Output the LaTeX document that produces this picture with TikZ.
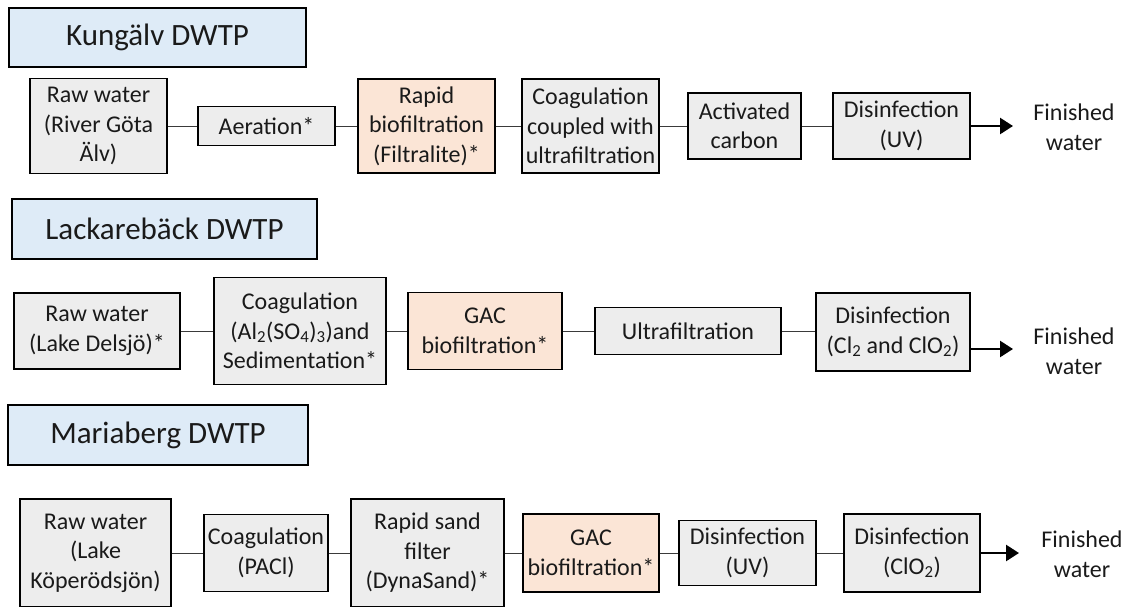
\documentclass[tikz,border=0pt]{standalone}
\usepackage{fontspec}
\setmainfont{Carlito}
\usetikzlibrary{arrows.meta}
\definecolor{boxgray}{HTML}{EDEDED}
\definecolor{boxorange}{HTML}{FBE5D6}
\definecolor{titleblue}{HTML}{DEEBF7}
\definecolor{txt}{HTML}{1A1A1A}
\definecolor{conn}{HTML}{3A3A3A}
\tikzset{
  stage/.style={draw=black, line width=1.4pt, fill=boxgray, inner sep=0pt, align=center,
    text=txt, font=\fontsize{24}{29.5}\selectfont},
  bio/.style={stage, fill=boxorange},
  plant/.style={draw=black, line width=2pt, fill=titleblue, inner sep=0pt, align=center,
    text=txt, font=\fontsize{31}{37}\selectfont},
  link/.style={draw=conn, line width=1pt},
  outflow/.style={draw=black, line width=2.6pt, -{Triangle[length=13pt,width=16pt]}},
  product/.style={align=center, text=txt, inner sep=0pt, font=\fontsize{24}{29.5}\selectfont}
}
\begin{document}
\begin{tikzpicture}[x=1pt,y=-1pt]
\useasboundingbox (0,0) rectangle (1124,606);
\clip (0,0) rectangle (1124,606);
% titles
\node[plant, minimum width=297pt, minimum height=59pt] (t1) at (157.5,37.5) {Kungälv DWTP};
\node[plant, minimum width=305pt, minimum height=60pt] (t2) at (164.5,229) {Lackarebäck DWTP};
\node[plant, minimum width=300pt, minimum height=60pt] (t3) at (158,435) {Mariaberg DWTP};
% row 1
\node[stage, minimum width=137pt, minimum height=95pt] (r1a) at (98.5,126) {Raw water\\(River Göta\\Älv)};
\node[stage, minimum width=137pt, minimum height=39pt] (r1b) at (266.5,126) {Aeration*};
\node[bio, minimum width=137pt, minimum height=94pt] (r1c) at (426.5,126) {Rapid\\biofiltration\\(Filtralite)*};
\node[stage, minimum width=137pt, minimum height=94pt] (r1d) at (590.5,126) {Coagulation\\coupled with\\ultrafiltration};
\node[stage, minimum width=113pt, minimum height=66pt] (r1e) at (744.5,126) {Activated\\carbon};
\node[stage, minimum width=137pt, minimum height=66pt] (r1f) at (901.5,126) {Disinfection\\(UV)};
\coordinate (e1) at (1013,126);
\node[product] (f1) at (1074,127) {Finished\\water};
\draw[link] (r1a.east) -- (r1b.west);
\draw[link] (r1b.east) -- (r1c.west);
\draw[link] (r1c.east) -- (r1d.west);
\draw[link] (r1d.east) -- (r1e.west);
\draw[link] (r1e.east) -- (r1f.west);
\draw[outflow] (r1f.east) -- (e1);
% row 2
\node[stage, minimum width=166pt, minimum height=76pt] (r2a) at (97,331) {Raw water\\(Lake Delsjö)*};
\node[stage, minimum width=172pt, minimum height=107pt] (r2b) at (300,331) {Coagulation\\(Al\textsubscript{2}(SO\textsubscript{4})\textsubscript{3})and\\Sedimentation*};
\node[bio, minimum width=154pt, minimum height=77pt] (r2c) at (485,331) {GAC\\biofiltration*};
\node[stage, minimum width=186pt, minimum height=47pt] (r2d) at (688,331) {Ultrafiltration};
\node[stage, minimum width=154pt, minimum height=78pt] (r2e) at (893,332) {Disinfection\\(Cl\textsubscript{2} and ClO\textsubscript{2})};
\coordinate (e2) at (1013,349);
\node[product] (f2) at (1074,351) {Finished\\water};
\draw[link] (r2a.east) -- (r2b.west);
\draw[link] (r2b.east) -- (r2c.west);
\draw[link] (r2c.east) -- (r2d.west);
\draw[link] (r2d.east) -- (r2e.west |- r2d.east);
\draw[outflow] (r2e.east |- e2) -- (e2);
% row 3
\node[stage, minimum width=151pt, minimum height=108pt] (r3a) at (95.5,553) {Raw water\\(Lake\\Köperödsjön)};
\node[stage, minimum width=124pt, minimum height=77pt] (r3b) at (266,553) {Coagulation\\(PACl)};
\node[stage, minimum width=153pt, minimum height=108pt] (r3c) at (427.5,553) {Rapid sand\\filter\\(DynaSand)*};
\node[bio, minimum width=136pt, minimum height=78pt] (r3d) at (591,553) {GAC\\biofiltration*};
\node[stage, minimum width=137pt, minimum height=65pt] (r3e) at (747.5,553) {Disinfection\\(UV)};
\node[stage, minimum width=136pt, minimum height=78pt] (r3f) at (912,553) {Disinfection\\(ClO\textsubscript{2})};
\coordinate (e3) at (1019,553);
\node[product] (f3) at (1082,554) {Finished\\water};
\draw[link] (r3a.east) -- (r3b.west);
\draw[link] (r3b.east) -- (r3c.west);
\draw[link] (r3c.east) -- (r3d.west);
\draw[link] (r3d.east) -- (r3e.west);
\draw[link] (r3e.east) -- (r3f.west);
\draw[outflow] (r3f.east) -- (e3);
\end{tikzpicture}
\end{document}
